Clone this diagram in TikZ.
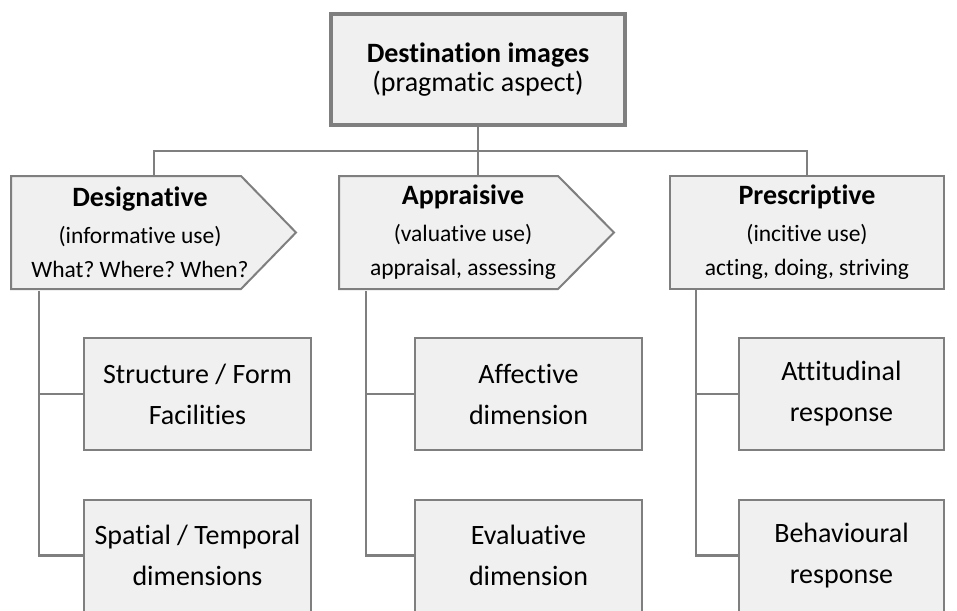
\documentclass[tikz,border=0pt]{standalone}
\usepackage{fontspec}
\setmainfont{Carlito}[Ligatures=NoCommon]
\usetikzlibrary{calc,backgrounds}
\definecolor{boxfill}{HTML}{F0F0F0}
\definecolor{boxline}{HTML}{7F7F7F}
\frenchspacing

\begin{document}
\begin{tikzpicture}[x=1pt,y=-1pt,
  box/.style={draw=boxline, fill=boxfill, line width=2pt, inner sep=0pt,
    minimum height=112pt, align=center, font=\fontsize{28}{41}\selectfont},
  headbox/.style={box, minimum height=113pt, font=\fontsize{23.5}{34}\selectfont},
  headtext/.style={headbox, draw=none, fill=none},
  pointshape/.style={draw=boxline, fill=boxfill, line width=2pt, line join=miter},
  link/.style={draw=boxline, line width=2.2pt}]
\useasboundingbox (0,0) rectangle (957,610);
% top
\node[box, line width=4pt, minimum width=294pt, minimum height=111pt,
  font=\fontsize{28}{29}\selectfont] (dest) at (478,69.5)
  {\textbf{Destination images}\\(pragmatic aspect)};
% three uses
\node[headtext, minimum width=256pt] (desig) at (140,232.5)
  {{\fontsize{28}{34}\selectfont\bfseries Designative}\\[3pt]
   (informative use)\\What? Where? When?};
\node[headtext, minimum width=246pt] (apprais) at (463,232.5)
  {{\fontsize{28}{34}\selectfont\bfseries Appraisive}\\[3pt]
   (valuative use)\\appraisal, assessing};
\node[headbox, minimum width=274pt] (prescr) at (807,232)
  {{\fontsize{28}{34}\selectfont\bfseries Prescriptive}\\[3pt]
   (incitive use)\\acting, doing, striving};
\begin{scope}[on background layer]
  \path[pointshape] ([yshift=-1pt]desig.north west) -- ++(230,0) -- ++(55,56.5)
    -- ++(-55,56.5) -- ++(-230,0) -- cycle;
  \path[pointshape] ([yshift=-1pt]apprais.north west) -- ++(219,0) -- ++(56,56.5)
    -- ++(-56,56.5) -- ++(-219,0) -- cycle;
\end{scope}
% dimensions
\begin{scope}[every node/.style={box}]
  \node[minimum width=227pt] (struct) at (197.5,394) {Structure / Form\\Facilities};
  \node[minimum width=227pt] (spatial) at (197.5,555.5) {Spatial / Temporal\\dimensions};
  \node[minimum width=227pt] (affect) at (528.5,394) {Affective\\dimension};
  \node[minimum width=227pt] (evalu) at (528.5,555.5) {Evaluative\\dimension};
  \node[minimum width=205pt] (attit) at (841.5,394) {Attitudinal\\response};
  \node[minimum width=205pt] (behav) at (841.5,555.5) {Behavioural\\response};
\end{scope}
% connectors
\draw[link] (dest.south) -- ([xshift=15pt,yshift=-1pt]apprais.north);
\draw[link] ([xshift=14pt,yshift=-1pt]desig.north) |- ($(dest.south)!.5!(apprais.north)$)
  -| (prescr.north);
\draw[link] ([xshift=28pt,yshift=-1pt]desig.south west) |- (struct.west);
\draw[link] ([xshift=28pt,yshift=-1pt]desig.south west) |- (spatial.west);
\draw[link] ([xshift=27pt,yshift=-1pt]apprais.south west) |- (affect.west);
\draw[link] ([xshift=27pt,yshift=-1pt]apprais.south west) |- (evalu.west);
\draw[link] ([xshift=27pt]prescr.south west) |- (attit.west);
\draw[link] ([xshift=27pt]prescr.south west) |- (behav.west);
\end{tikzpicture}
\end{document}
